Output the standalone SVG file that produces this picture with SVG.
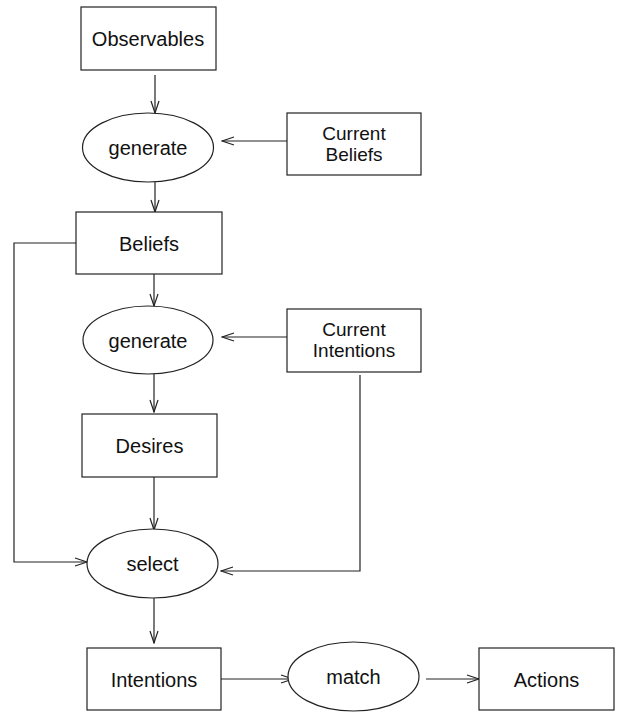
<svg xmlns="http://www.w3.org/2000/svg" width="619" height="713" viewBox="0 0 619 713">
<defs>
<style>
.box{fill:#fff;stroke:#222;stroke-width:1.2}
.ell{fill:#fff;stroke:#222;stroke-width:1.2}
.t{font-family:"Liberation Sans",Arial,sans-serif;font-size:20px;fill:#111;text-anchor:middle}
.t2{font-family:"Liberation Sans",Arial,sans-serif;font-size:19px;fill:#111;text-anchor:middle}
.c{fill:none;stroke:#222;stroke-width:1.2}
</style>
<marker id="ah" markerUnits="userSpaceOnUse" markerWidth="14" markerHeight="10" viewBox="0 0 14 10" refX="13" refY="5" orient="auto">
<path d="M1,1 L13,5 L1,9" fill="none" stroke="#222" stroke-width="1.2"/>
</marker>
</defs>
<rect width="619" height="713" fill="#fff"/>
<g id="connectors">
<line class="c" x1="155" y1="75" x2="155" y2="113" marker-end="url(#ah)"/>
<line class="c" x1="155" y1="182" x2="155" y2="212" marker-end="url(#ah)"/>
<line class="c" x1="287" y1="141" x2="222" y2="141" marker-end="url(#ah)"/>
<line class="c" x1="154" y1="274" x2="154" y2="306" marker-end="url(#ah)"/>
<line class="c" x1="154" y1="374" x2="154" y2="412" marker-end="url(#ah)"/>
<line class="c" x1="287" y1="337" x2="222" y2="337" marker-end="url(#ah)"/>
<line class="c" x1="154" y1="477" x2="154" y2="530" marker-end="url(#ah)"/>
<polyline class="c" points="76,243 14,243 14,562 87,562" marker-end="url(#ah)"/>
<polyline class="c" points="360,375 360,571 221,571" marker-end="url(#ah)"/>
<line class="c" x1="154" y1="598" x2="154" y2="643" marker-end="url(#ah)"/>
<line class="c" x1="221" y1="679" x2="293" y2="679" marker-end="url(#ah)"/>
<line class="c" x1="426" y1="679" x2="479" y2="679" marker-end="url(#ah)"/>
</g>
<g id="observables"><rect class="box" x="81" y="7" width="135" height="63"/><text class="t" x="148" y="46">Observables</text></g>
<g id="generate1"><ellipse class="ell" cx="148" cy="147.5" rx="65.5" ry="34.5"/><text class="t" x="148" y="155">generate</text></g>
<g id="current-beliefs"><rect class="box" x="287" y="113" width="134" height="62"/><text class="t2" x="354" y="140">Current</text><text class="t2" x="354" y="161">Beliefs</text></g>
<g id="beliefs"><rect class="box" x="76" y="212" width="146" height="62"/><text class="t" x="149" y="251">Beliefs</text></g>
<g id="generate2"><ellipse class="ell" cx="148" cy="340" rx="65" ry="34"/><text class="t" x="148" y="347.5">generate</text></g>
<g id="current-intentions"><rect class="box" x="287" y="309" width="134" height="63"/><text class="t2" x="354" y="336">Current</text><text class="t2" x="354" y="357">Intentions</text></g>
<g id="desires"><rect class="box" x="82" y="414" width="135" height="63"/><text class="t" x="149.5" y="453">Desires</text></g>
<g id="select"><ellipse class="ell" cx="152.5" cy="563.5" rx="65.5" ry="34.5"/><text class="t" x="152.5" y="571">select</text></g>
<g id="intentions"><rect class="box" x="87" y="648" width="134" height="62"/><text class="t" x="154" y="686.5">Intentions</text></g>
<g id="match"><ellipse class="ell" cx="353.5" cy="676.5" rx="65.5" ry="34.5"/><text class="t" x="353.5" y="684">match</text></g>
<g id="actions"><rect class="box" x="479" y="648" width="135" height="62"/><text class="t" x="546.5" y="686.5">Actions</text></g>
</svg>
